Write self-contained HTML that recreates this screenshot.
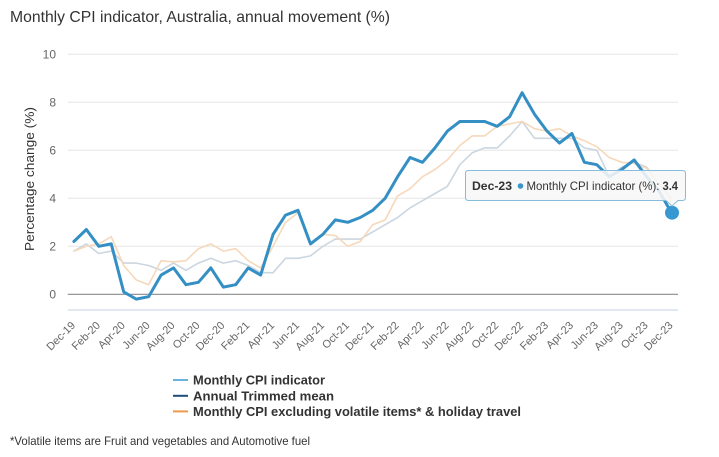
<!DOCTYPE html>
<html>
<head>
<meta charset="utf-8">
<style>
  html,body{margin:0;padding:0;background:#fff;}
  svg{display:block;}
  text{font-family:"Liberation Sans",Arial,sans-serif;}
</style>
</head>
<body>
<svg width="719" height="457" viewBox="0 0 719 457" xmlns="http://www.w3.org/2000/svg">
  <rect x="0" y="0" width="719" height="457" fill="#ffffff"/>

  <!-- Title -->
  <text x="10" y="22" font-size="16" fill="#333333" textLength="380" lengthAdjust="spacingAndGlyphs">Monthly CPI indicator, Australia, annual movement (%)</text>

  <!-- Grid lines -->
  <g stroke="#e6e6e6" stroke-width="1">
    <line x1="67.7" y1="54.3" x2="678" y2="54.3"/>
    <line x1="67.7" y1="102.3" x2="678" y2="102.3"/>
    <line x1="67.7" y1="150.3" x2="678" y2="150.3"/>
    <line x1="67.7" y1="198.3" x2="678" y2="198.3"/>
    <line x1="67.7" y1="246.3" x2="678" y2="246.3"/>
  </g>
  <!-- zero line -->
  <line x1="67.7" y1="294.3" x2="678" y2="294.3" stroke="#8c8c8c" stroke-width="1.2"/>
  <!-- x axis line -->
  <line x1="67.7" y1="310" x2="678" y2="310" stroke="#d9e1ea" stroke-width="1.5"/>

  <!-- Y tick labels -->
  <g font-size="12" fill="#666666" text-anchor="end">
    <text x="56" y="58.5">10</text>
    <text x="56" y="106.5">8</text>
    <text x="56" y="154.5">6</text>
    <text x="56" y="202.5">4</text>
    <text x="56" y="250.5">2</text>
    <text x="56" y="298.5">0</text>
  </g>

  <!-- Y axis title -->
  <text transform="translate(34,179) rotate(-90)" text-anchor="middle" font-size="13" fill="#333333" textLength="144" lengthAdjust="spacingAndGlyphs">Percentage change (%)</text>

  <!-- X labels -->
  <g font-size="11" fill="#666666" text-anchor="end">
    <text transform="translate(75.9,326) rotate(-45)">Dec-19</text>
    <text transform="translate(100.8,326) rotate(-45)">Feb-20</text>
    <text transform="translate(125.7,326) rotate(-45)">Apr-20</text>
    <text transform="translate(150.6,326) rotate(-45)">Jun-20</text>
    <text transform="translate(175.5,326) rotate(-45)">Aug-20</text>
    <text transform="translate(200.4,326) rotate(-45)">Oct-20</text>
    <text transform="translate(225.3,326) rotate(-45)">Dec-20</text>
    <text transform="translate(250.2,326) rotate(-45)">Feb-21</text>
    <text transform="translate(275.1,326) rotate(-45)">Apr-21</text>
    <text transform="translate(300.0,326) rotate(-45)">Jun-21</text>
    <text transform="translate(324.9,326) rotate(-45)">Aug-21</text>
    <text transform="translate(349.8,326) rotate(-45)">Oct-21</text>
    <text transform="translate(374.7,326) rotate(-45)">Dec-21</text>
    <text transform="translate(399.6,326) rotate(-45)">Feb-22</text>
    <text transform="translate(424.5,326) rotate(-45)">Apr-22</text>
    <text transform="translate(449.4,326) rotate(-45)">Jun-22</text>
    <text transform="translate(474.3,326) rotate(-45)">Aug-22</text>
    <text transform="translate(499.2,326) rotate(-45)">Oct-22</text>
    <text transform="translate(524.1,326) rotate(-45)">Dec-22</text>
    <text transform="translate(549.0,326) rotate(-45)">Feb-23</text>
    <text transform="translate(573.9,326) rotate(-45)">Apr-23</text>
    <text transform="translate(598.8,326) rotate(-45)">Jun-23</text>
    <text transform="translate(623.7,326) rotate(-45)">Aug-23</text>
    <text transform="translate(648.6,326) rotate(-45)">Oct-23</text>
    <text transform="translate(673.5,326) rotate(-45)">Dec-23</text>
  </g>

  <!-- Trimmed mean (faded) -->
  <polyline fill="none" stroke="#cbd6e0" stroke-width="1.6" stroke-linejoin="round" stroke-linecap="round"
    points="73.9,251.1 86.35,243.9 98.8,253.5 111.25,251.1 123.7,263.1 136.15,263.1 148.6,265.5 161.05,270.3 173.5,263.1 185.95,270.3 198.4,263.1 210.85,258.3 223.3,263.1 235.75,260.7 248.2,265.5 260.65,272.7 273.1,272.7 285.55,258.3 298,258.3 310.45,255.9 322.9,246.3 335.35,239.1 347.8,239.1 360.25,239.1 372.7,231.9 385.15,224.7 397.6,217.5 410.05,207.9 422.5,200.7 434.95,193.5 447.4,186.3 459.85,164.7 472.3,152.7 484.75,147.9 497.2,147.9 509.65,135.9 522.1,121.5 534.55,138.3 547,138.3 559.45,138.3 571.9,138.3 584.35,147.9 596.8,150.3 609.25,176.7 621.7,167.1 634.15,162.3 646.6,167.1 659.05,183.9 671.5,198.3"/>

  <!-- Excl volatile (faded) -->
  <polyline fill="none" stroke="#f6d8ba" stroke-width="1.6" stroke-linejoin="round" stroke-linecap="round"
    points="73.9,251.1 86.35,246.3 98.8,243.9 111.25,236.7 123.7,265.5 136.15,279.9 148.6,284.7 161.05,260.7 173.5,261.9 185.95,260.7 198.4,248.7 210.85,243.9 223.3,251.1 235.75,248.7 248.2,260.7 260.65,267.9 273.1,246.3 285.55,222.3 298,212.7 310.45,243.9 322.9,234.3 335.35,235.5 347.8,246.3 360.25,241.5 372.7,224.7 385.15,219.9 397.6,195.9 410.05,188.7 422.5,176.7 434.95,169.5 447.4,159.9 459.85,145.5 472.3,135.9 484.75,135.9 497.2,126.3 509.65,123.9 522.1,121.5 534.55,128.7 547,131.1 559.45,128.7 571.9,135.9 584.35,140.7 596.8,146.7 609.25,157.5 621.7,162.3 634.15,163.5 646.6,168.3 659.05,183.9 671.5,200.7"/>

  <!-- Monthly CPI indicator -->
  <polyline fill="none" stroke="#348fc4" stroke-width="3" stroke-linejoin="round" stroke-linecap="round"
    points="73.9,241.5 86.35,229.5 98.8,246.3 111.25,243.9 123.7,291.9 136.15,299.1 148.6,296.7 161.05,275.1 173.5,267.9 185.95,284.7 198.4,282.3 210.85,267.9 223.3,287.1 235.75,284.7 248.2,267.9 260.65,275.1 273.1,234.3 285.55,215.1 298,210.3 310.45,243.9 322.9,234.3 335.35,219.9 347.8,222.3 360.25,217.5 372.7,210.3 385.15,198.3 397.6,176.7 410.05,157.5 422.5,162.3 434.95,147.9 447.4,131.1 459.85,121.5 472.3,121.5 484.75,121.5 497.2,126.3 509.65,116.7 522.1,92.7 534.55,114.3 547,131.1 559.45,143.1 571.9,133.5 584.35,162.3 596.8,164.7 609.25,176.7 621.7,169.5 634.15,159.9 646.6,176.7 659.05,191.1 671.5,212.7"/>

  <!-- Hover marker -->
  <circle cx="672" cy="212.7" r="7" fill="#3798d2"/>

  <!-- Tooltip -->
  <path d="M468.5,170.5 H682.5 Q685.5,170.5 685.5,173.5 V197.5 Q685.5,200.5 682.5,200.5 H678 L672,206 L666,200.5 H468.5 Q465.5,200.5 465.5,197.5 V173.5 Q465.5,170.5 468.5,170.5 Z"
    fill="rgba(247,247,247,0.88)" stroke="#86bcdc" stroke-width="1"/>
  <text x="472" y="190" font-size="12" font-weight="bold" fill="#333333" textLength="40" lengthAdjust="spacingAndGlyphs">Dec-23</text>
  <circle cx="520.5" cy="186" r="2.8" fill="#3a96c8"/>
  <text x="526.5" y="190" font-size="12" fill="#333333" textLength="133" lengthAdjust="spacingAndGlyphs">Monthly CPI indicator (%):</text>
  <text x="662.5" y="190" font-size="12" font-weight="bold" fill="#333333" textLength="15.5" lengthAdjust="spacingAndGlyphs">3.4</text>

  <!-- Legend -->
  <line x1="173" y1="380" x2="188" y2="380" stroke="#6cb2df" stroke-width="2"/>
  <line x1="173" y1="395.8" x2="188" y2="395.8" stroke="#1e4f7b" stroke-width="2"/>
  <line x1="173" y1="411.4" x2="188" y2="411.4" stroke="#ef9a4a" stroke-width="2"/>
  <g font-size="13" font-weight="bold" fill="#333333">
    <text x="193" y="384.5" textLength="132" lengthAdjust="spacingAndGlyphs">Monthly CPI indicator</text>
    <text x="193" y="400.3" textLength="141" lengthAdjust="spacingAndGlyphs">Annual Trimmed mean</text>
    <text x="193" y="416" textLength="328" lengthAdjust="spacingAndGlyphs">Monthly CPI excluding volatile items* &amp; holiday travel</text>
  </g>

  <!-- Footnote -->
  <text x="10" y="445" font-size="12" fill="#333333" textLength="300" lengthAdjust="spacingAndGlyphs">*Volatile items are Fruit and vegetables and Automotive fuel</text>
</svg>
</body>
</html>
